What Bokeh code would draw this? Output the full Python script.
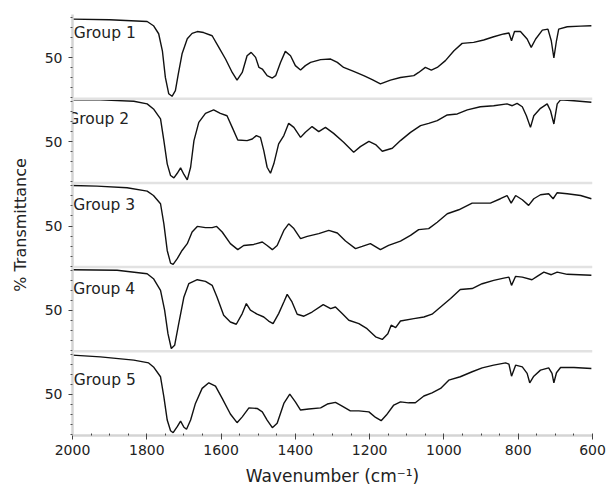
from bokeh.plotting import figure
from bokeh.models import Range1d, FixedTicker, Span, Label
from bokeh.embed import file_html
from bokeh.resources import INLINE

# ---- data (wavenumber, % transmittance) ----
groups = ["Group 1", "Group  2", "Group  3", "Group  4", "Group  5"]

wn1 = [2000, 1900, 1799, 1782, 1768, 1758, 1750, 1741, 1732, 1723, 1715, 1705, 1691, 1678, 1664,
       1647, 1624, 1606, 1588, 1570, 1557, 1543, 1530, 1519, 1507, 1498, 1489, 1476, 1462, 1453,
       1440, 1427, 1413, 1400, 1386, 1373, 1359, 1332, 1305, 1287, 1270, 1243, 1216, 1193, 1171,
       1144, 1117, 1081, 1068, 1050, 1034, 1018, 996, 973, 951, 920, 893, 866, 839, 825,
       818, 810, 794, 776, 765, 753, 735, 720, 711, 704, 697, 691, 668, 632, 603]
t1 = [69.2, 68.9, 68.0, 65.9, 61.9, 53.4, 40.1, 32.0, 30.7, 33.5, 42.0, 51.9, 59.4, 62.1, 63.0,
      62.5, 60.9, 55.1, 49.3, 42.6, 38.8, 42.6, 50.9, 52.6, 50.1, 45.1, 44.3, 41.0, 39.8, 41.0,
      47.6, 53.1, 50.9, 46.0, 43.8, 46.0, 47.6, 49.0, 49.3, 47.6, 45.1, 43.1, 41.0, 39.0, 36.9,
      38.8, 40.1, 41.0, 42.6, 45.1, 43.8, 45.1, 48.5, 53.4, 57.1, 57.6, 58.8, 60.4, 61.8, 62.3,
      58.4, 63.0, 63.0, 59.3, 55.1, 59.3, 63.7, 64.2, 58.4, 49.8, 58.4, 64.2, 65.4, 65.7, 65.9]

wn2 = [2000, 1925, 1835, 1799, 1782, 1763, 1754, 1745, 1736, 1727, 1718, 1709, 1700, 1691, 1682,
       1673, 1660, 1642, 1620, 1602, 1584, 1570, 1555, 1530, 1516, 1505, 1494, 1485, 1476, 1467,
       1458, 1445, 1431, 1418, 1404, 1386, 1373, 1355, 1337, 1319, 1297, 1270, 1243, 1225, 1202,
       1184, 1166, 1139, 1117, 1090, 1063, 1041, 1018, 991, 964, 937, 902, 866, 830, 816,
       803, 789, 778, 767, 758, 740, 722, 713, 704, 695, 686, 650, 603]
t2 = [70.9, 70.9, 70.2, 68.9, 66.4, 61.4, 50.6, 39.0, 33.2, 32.0, 34.3, 37.0, 33.7, 31.0, 37.3,
      50.6, 59.7, 64.2, 65.9, 64.2, 63.0, 57.2, 50.9, 50.6, 51.4, 53.1, 52.2, 45.6, 37.3, 34.3,
      39.0, 49.0, 53.1, 59.2, 57.2, 52.2, 54.8, 57.6, 55.1, 57.2, 54.2, 49.8, 44.8, 47.6, 50.2,
      48.6, 45.3, 46.8, 50.6, 54.7, 58.1, 59.2, 60.6, 63.4, 63.9, 65.9, 67.5, 68.0, 68.9, 68.0,
      69.2, 67.5, 63.0, 57.2, 63.0, 66.7, 68.9, 65.5, 58.9, 68.9, 70.9, 70.5, 69.7]

wn3 = [2000, 1934, 1853, 1799, 1782, 1763, 1754, 1745, 1736, 1729, 1718, 1705, 1691, 1678, 1664,
       1642, 1624, 1612, 1597, 1575, 1555, 1539, 1512, 1489, 1476, 1462, 1449, 1431, 1418, 1404,
       1386, 1368, 1337, 1310, 1287, 1265, 1238, 1220, 1198, 1171, 1149, 1117, 1090, 1068, 1041,
       1018, 991, 960, 924, 875, 848, 830, 819, 807, 789, 772, 758, 740, 718, 706,
       695, 668, 632, 603]
t3 = [70.2, 69.9, 69.1, 67.4, 65.2, 61.1, 51.1, 37.8, 31.5, 30.9, 33.7, 37.8, 41.2, 47.0, 49.8,
      49.2, 49.2, 49.8, 47.0, 41.2, 38.2, 40.3, 40.8, 42.0, 40.3, 38.2, 40.3, 47.8, 51.1, 48.7,
      43.7, 44.8, 46.2, 47.8, 46.5, 42.5, 38.7, 39.8, 41.2, 38.2, 40.3, 42.5, 45.3, 48.2, 48.7,
      51.9, 56.1, 58.1, 61.4, 61.4, 63.6, 65.2, 61.4, 65.2, 63.1, 60.3, 63.6, 65.6, 66.1, 63.6,
      66.6, 66.1, 65.2, 63.6]

wn4 = [2000, 1880, 1799, 1782, 1763, 1752, 1743, 1734, 1725, 1714, 1700, 1687, 1664, 1642, 1624,
       1611, 1593, 1575, 1559, 1543, 1532, 1521, 1503, 1485, 1472, 1460, 1445, 1431, 1422, 1409,
       1395, 1377, 1355, 1325, 1305, 1292, 1274, 1256, 1229, 1207, 1184, 1166, 1151, 1142, 1130,
       1117, 1081, 1054, 1032, 1009, 982, 956, 924, 897, 866, 839, 825, 818, 807, 789,
       763, 749, 731, 711, 695, 668, 603]
t4 = [70.2, 69.9, 68.2, 65.7, 59.9, 50.0, 38.3, 30.9, 32.5, 43.3, 56.6, 63.2, 65.2, 64.4, 62.4,
      56.6, 47.5, 44.1, 43.0, 48.3, 53.3, 50.0, 48.0, 46.6, 44.6, 43.3, 48.3, 54.1, 57.9, 54.1,
      48.0, 47.0, 49.1, 52.8, 50.8, 51.6, 48.3, 45.0, 43.3, 40.8, 36.7, 35.4, 38.3, 42.5, 41.3,
      44.6, 45.8, 46.6, 48.0, 51.6, 55.8, 60.3, 60.8, 63.2, 64.9, 66.0, 66.5, 62.4, 66.9, 66.5,
      65.2, 66.9, 69.0, 67.7, 69.0, 67.9, 67.4]

wn5 = [2000, 1925, 1835, 1795, 1782, 1763, 1754, 1745, 1736, 1729, 1718, 1709, 1700, 1693, 1682,
       1669, 1651, 1633, 1615, 1597, 1575, 1557, 1543, 1525, 1503, 1489, 1476, 1462, 1449, 1431,
       1415, 1400, 1386, 1364, 1332, 1314, 1292, 1274, 1252, 1229, 1202, 1184, 1169, 1155, 1135,
       1117, 1095, 1077, 1054, 1032, 1009, 987, 956, 924, 897, 866, 834, 825, 818, 807,
       789, 776, 769, 758, 740, 718, 709, 704, 697, 686, 650, 603]
t5 = [69.6, 68.7, 67.1, 65.7, 63.7, 58.8, 48.8, 37.2, 31.9, 30.9, 33.9, 36.7, 33.6, 32.6, 37.2,
      45.5, 53.0, 55.8, 54.1, 48.0, 40.2, 35.9, 38.8, 43.3, 43.0, 41.3, 37.2, 33.4, 35.6, 45.5,
      50.1, 46.3, 42.2, 42.7, 43.3, 45.2, 46.0, 44.2, 41.8, 41.8, 41.3, 38.5, 36.9, 39.7, 44.7,
      46.3, 45.8, 45.8, 49.2, 50.8, 53.0, 57.1, 58.8, 61.3, 63.2, 64.6, 65.7, 65.1, 59.1, 64.6,
      63.7, 60.5, 55.8, 59.1, 62.1, 63.2, 60.5, 55.8, 60.8, 63.4, 63.4, 62.9]

x_ticks = [2000, 1800, 1600, 1400, 1200, 1000, 800, 600]
y_tick_value = 50

series = [(wn1, t1), (wn2, t2), (wn3, t3), (wn4, t4), (wn5, t5)]

# ---- layout / style ----
PANEL_T_LOW = 30      # transmittance at bottom of each panel
PANEL_H = 42          # transmittance span of each panel
N = len(series)
FONT = "DejaVu Sans"
TXT = "#222222"
label_dx = [1.3, -5.3, 0.7, 0.7, 1.3]
label_dy = [18.3, 20.6, 22.3, 21.9, 28.6]

p = figure(width=608, height=492, output_backend="svg", toolbar_location=None,
           x_range=Range1d(2000, 600), y_range=Range1d(-0.5, N * PANEL_H - 0.5),
           min_border_left=72, min_border_right=16, min_border_top=14, min_border_bottom=57)
p.outline_line_color = None
p.grid.visible = False
p.background_fill_color = "white"
p.border_fill_color = "white"

offsets = [(N - 1 - i) * PANEL_H for i in range(N)]

for i, (wn, t) in enumerate(series):
    off = offsets[i]
    p.line(wn, [v - PANEL_T_LOW + off for v in t], line_color="#111111", line_width=1.4)

# panel separators
for k in range(1, N):
    p.add_layout(Span(location=k * PANEL_H - 0.5, dimension="width",
                      line_color="#e2e2e2", line_width=2.5))

# group labels
for i, g in enumerate(groups):
    top = offsets[i] + PANEL_H - 0.5
    p.add_layout(Label(x=2000, y=top, x_offset=label_dx[i], y_offset=-label_dy[i],
                       text=g, text_font=FONT, text_font_size="15.5px",
                       text_color=TXT, text_baseline="alphabetic", text_align="left"))

# x axis
p.xaxis.ticker = FixedTicker(ticks=x_ticks,
                             minor_ticks=list(range(600, 2001, 50)))
p.xaxis.axis_label = "Wavenumber (cm\u207b\u00b9)"
p.xaxis.axis_line_color = "#d4d4d4"
p.xaxis.axis_line_width = 2.5
p.xaxis.major_tick_line_color = "#444444"
p.xaxis.major_tick_out = 4
p.xaxis.major_tick_in = 1
p.xaxis.minor_tick_line_color = "#444444"
p.xaxis.minor_tick_out = 0
p.xaxis.minor_tick_in = 2
p.xaxis.major_label_standoff = 5
p.xaxis.axis_label_standoff = 8

# y axis
y_major = [off + (y_tick_value - PANEL_T_LOW) for off in offsets]
y_minor = []
for off in offsets:
    for tv in range(PANEL_T_LOW, PANEL_T_LOW + PANEL_H - 1, 5):
        if tv != y_tick_value:
            y_minor.append(off + tv - PANEL_T_LOW)
p.yaxis.ticker = FixedTicker(ticks=y_major, minor_ticks=y_minor)
p.yaxis.major_label_overrides = {v: str(y_tick_value) for v in y_major}
p.yaxis.axis_label = "% Transmittance"
p.yaxis.axis_line_color = "#d4d4d4"
p.yaxis.axis_line_width = 2.5
p.yaxis.major_tick_line_color = "#444444"
p.yaxis.major_tick_out = 4
p.yaxis.major_tick_in = 0
p.yaxis.minor_tick_line_color = "#555555"
p.yaxis.minor_tick_out = 2
p.yaxis.minor_tick_in = 0
p.yaxis.major_label_standoff = 6
p.yaxis.axis_label_standoff = 12

for ax in (p.xaxis, p.yaxis):
    ax.major_label_text_font = FONT
    ax.major_label_text_font_size = "14px"
    ax.major_label_text_color = TXT
    ax.axis_label_text_font = FONT
    ax.axis_label_text_font_style = "normal"
    ax.axis_label_text_color = TXT
p.xaxis.axis_label_text_font_size = "17px"
p.yaxis.axis_label_text_font_size = "16px"

open("out.html", "w").write(file_html(p, INLINE))
